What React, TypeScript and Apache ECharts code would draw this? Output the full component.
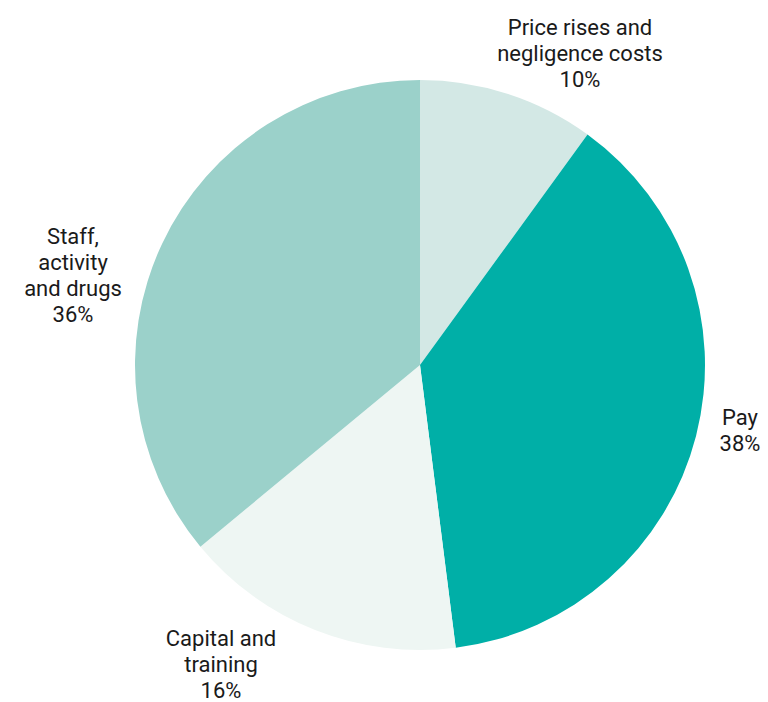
import React, { useEffect, useRef } from "react";
import * as echarts from "echarts";

const categories = ["Price rises and\nnegligence costs", "Pay", "Capital and\ntraining", "Staff,\nactivity\nand drugs"];
const values = [10, 38, 16, 36];
const colors = ["#d3e8e5", "#00afa7", "#eef6f3", "#9bd1ca"];
const labelPos: [number, number][] = [
  [580, 53],
  [740, 430],
  [221, 664],
  [73, 275],
];

export default function App() {
  const ref = useRef<HTMLDivElement>(null);
  useEffect(() => {
    if (!ref.current) return;
    const chart = echarts.init(ref.current, null, { renderer: "svg" });
    chart.setOption({
      animation: false,
      backgroundColor: "#ffffff",
      series: [
        {
          type: "pie",
          center: [420, 365],
          radius: 285,
          startAngle: 90,
          clockwise: true,
          silent: true,
          label: {
            show: true,
            position: "outside",
            formatter: (p: any) => `${p.name}\n${p.value}%`,
            fontFamily: "Roboto",
            fontSize: 22,
            lineHeight: 26,
            color: "#1a1a1a",
            align: "center",
            overflow: "none",
            bleedMargin: 0,
          },
          labelLine: { show: false },
          labelLayout: (params: any) => {
            const pos = labelPos[params.dataIndex];
            return { x: pos[0], y: pos[1], align: "center", verticalAlign: "middle" };
          },
          itemStyle: { borderWidth: 0 },
          data: categories.map((c, i) => ({
            name: c,
            value: values[i],
            itemStyle: { color: colors[i] },
          })),
        },
      ],
    });
    return () => chart.dispose();
  }, []);
  return (
    <div
      ref={ref}
      style={{ position: "absolute", left: 0, top: 0, width: 768, height: 702 }}
    />
  );
}
